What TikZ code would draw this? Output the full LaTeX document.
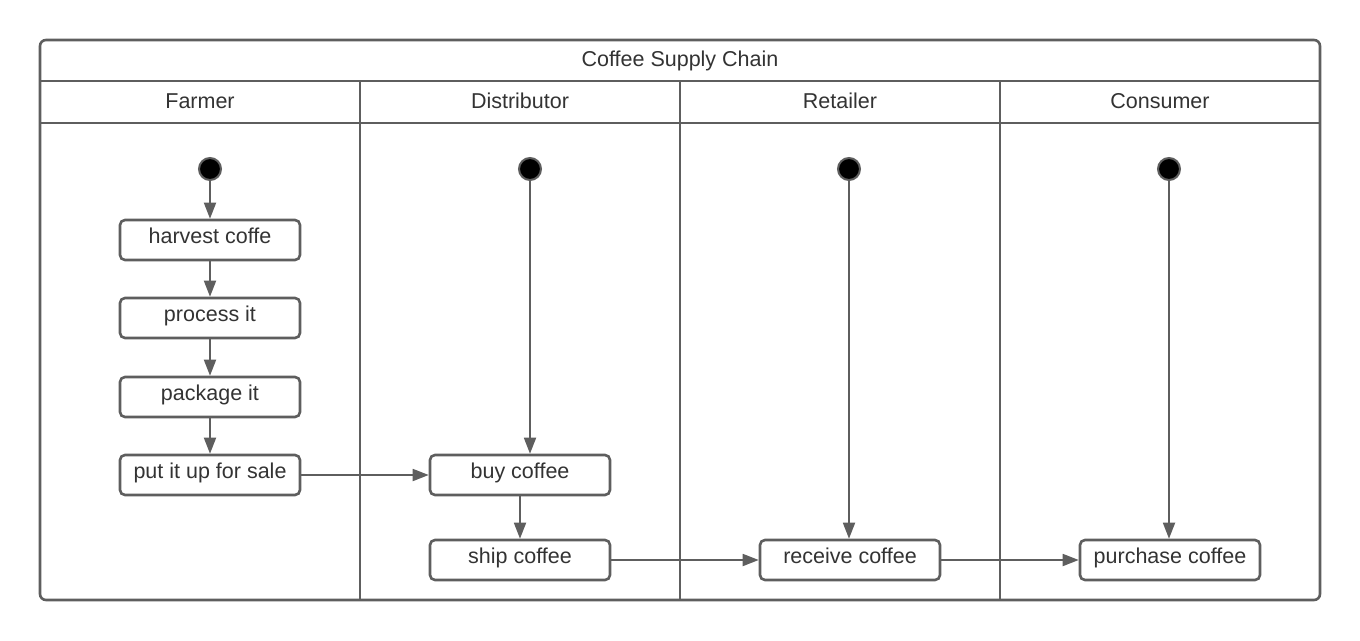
\documentclass[tikz,border=0pt]{standalone}
\usepackage{fontspec}
\setmainfont{Liberation Sans}
\usetikzlibrary{arrows.meta}
\definecolor{lc}{HTML}{5E5E5E}
\definecolor{tc}{HTML}{333333}
\begin{document}
\begin{tikzpicture}[x=1pt,y=-1pt,
  act/.style={draw=lc,line width=2.6pt,rounded corners=5pt,minimum width=180pt,minimum height=40pt,inner sep=0pt,text=tc,font=\fontsize{21.5}{25}\selectfont,text height=16pt,text depth=10pt,fill=white},
  startnode/.style={circle,fill=black,draw=lc,line width=2pt,minimum size=22pt,inner sep=0pt},
  flow/.style={draw=lc,line width=1.8pt,-{Triangle[length=16pt,width=12pt]}},
  hdr/.style={text=tc,font=\fontsize{21.5}{25}\selectfont,text height=16pt,text depth=4pt,inner sep=0pt},
  frame/.style={draw=lc,line width=2.6pt}
]
\useasboundingbox (0,0) rectangle (1360,640);
\fill[white] (0,0) rectangle (1360,640);
% frame and lanes
\draw[frame,rounded corners=6pt] (40,40) rectangle (1320,600);
\draw[frame] (40,81) -- (1320,81);
\draw[frame] (40,123) -- (1320,123);
\draw[frame] (360,81) -- (360,600);
\draw[frame] (680,81) -- (680,600);
\draw[frame] (1000,81) -- (1000,600);
% headers
\node[hdr] (title) at (680,60) {Coffee Supply Chain};
\node[hdr] (hF) at (200,102) {Farmer};
\node[hdr] (hD) at (520,102) {Distributor};
\node[hdr] (hR) at (840,102) {Retailer};
\node[hdr] (hC) at (1160,102) {Consumer};
% start nodes
\node[startnode] (s1) at (210,169) {};
\node[startnode] (s2) at (530,169) {};
\node[startnode] (s3) at (849,169) {};
\node[startnode] (s4) at (1169,169) {};
% activities
\node[act] (harvest) at (210,240) {harvest coffe};
\node[act] (process) at (210,318) {process it};
\node[act] (package) at (210,397) {package it};
\node[act] (sale) at (210,475) {put it up for sale};
\node[act] (buy) at (520,475) {buy coffee};
\node[act] (ship) at (520,560) {ship coffee};
\node[act] (receive) at (850,560) {receive coffee};
\node[act] (purchase) at (1170,560) {purchase coffee};
% flows
\draw[flow] (s1) -- (harvest);
\draw[flow] (harvest) -- (process);
\draw[flow] (process) -- (package);
\draw[flow] (package) -- (sale);
\draw[flow] (sale) -- (buy);
\draw[flow] (s2) -- (s2 |- buy.north);
\draw[flow] (buy) -- (ship);
\draw[flow] (ship) -- (receive);
\draw[flow] (s3) -- (s3 |- receive.north);
\draw[flow] (receive) -- (purchase);
\draw[flow] (s4) -- (s4 |- purchase.north);
\end{tikzpicture}
\end{document}
